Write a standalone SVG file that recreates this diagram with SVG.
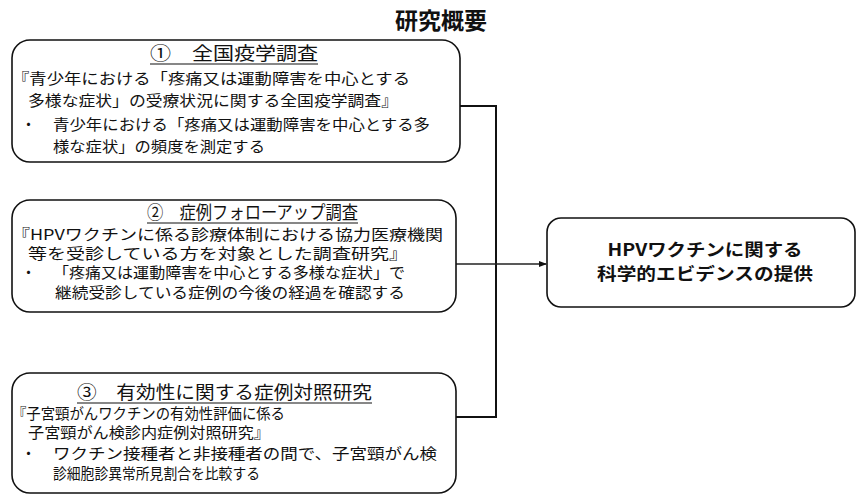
<svg xmlns="http://www.w3.org/2000/svg" width="857" height="499" viewBox="0 0 857 499">
<style>
text{font-family:"Noto Sans CJK JP","Noto Sans",sans-serif;fill:#111}
.box{fill:#fff;stroke:#111;stroke-width:1.6}
.h{font-size:18px}
.t{font-size:15px}
.big{font-size:17px;font-weight:bold}
.title{font-size:23px;font-weight:bold}
.ul{stroke:#111;stroke-width:1.2}
.conn{stroke:#111;stroke-width:2;fill:none}
.arr{stroke:#222;stroke-width:1.5;fill:none}
</style>
<defs>
<marker id="ah" markerWidth="8" markerHeight="8" refX="7" refY="4" orient="auto" markerUnits="userSpaceOnUse">
<path d="M0,1 L8,4 L0,7 Z" fill="#111"/>
</marker>
</defs>
<rect width="857" height="499" fill="#fff"/>
<text class="title" x="441" y="29" text-anchor="middle">研究概要</text>

<g id="connectors">
<path class="conn" d="M460,106 H496 V417 H456"/>
<line class="arr" x1="456" y1="264" x2="546" y2="264" marker-end="url(#ah)"/>
</g>

<g id="node1">
<rect class="box" x="12" y="40" width="448" height="122" rx="18"/>
<text class="h" x="150" y="60" textLength="168" lengthAdjust="spacingAndGlyphs">①　全国疫学調査</text>
<line class="ul" x1="150" y1="64" x2="318" y2="64"/>
<text class="t" x="12" y="84" textLength="398" lengthAdjust="spacingAndGlyphs">『青少年における「疼痛又は運動障害を中心とする</text>
<text class="t" x="28" y="106" textLength="370" lengthAdjust="spacingAndGlyphs">多様な症状」の受療状況に関する全国疫学調査』</text>
<text class="t" x="21" y="130">・</text>
<text class="t" x="53" y="130" textLength="377" lengthAdjust="spacingAndGlyphs">青少年における「疼痛又は運動障害を中心とする多</text>
<text class="t" x="53" y="152" textLength="212" lengthAdjust="spacingAndGlyphs">様な症状」の頻度を測定する</text>
</g>

<g id="node2">
<rect class="box" x="12" y="200" width="444" height="112" rx="18"/>
<text class="h" x="147" y="219" textLength="211" lengthAdjust="spacingAndGlyphs">②　症例フォローアップ調査</text>
<line class="ul" x1="147" y1="223" x2="358" y2="223"/>
<text class="t" x="12" y="240" textLength="431" lengthAdjust="spacingAndGlyphs">『HPVワクチンに係る診療体制における協力医療機関</text>
<text class="t" x="28" y="259" textLength="380" lengthAdjust="spacingAndGlyphs">等を受診している方を対象とした調査研究』</text>
<text class="t" x="21" y="278">・</text>
<text class="t" x="53" y="278" textLength="352" lengthAdjust="spacingAndGlyphs">「疼痛又は運動障害を中心とする多様な症状」で</text>
<text class="t" x="55" y="298" textLength="350" lengthAdjust="spacingAndGlyphs">継続受診している症例の今後の経過を確認する</text>
</g>

<g id="node3">
<rect class="box" x="12" y="373" width="444" height="120" rx="18"/>
<text class="h" x="77" y="399" textLength="295" lengthAdjust="spacingAndGlyphs">③　有効性に関する症例対照研究</text>
<line class="ul" x1="77" y1="403" x2="372" y2="403"/>
<text class="t" x="12" y="419" textLength="273" lengthAdjust="spacingAndGlyphs">『子宮頸がんワクチンの有効性評価に係る</text>
<text class="t" x="28" y="438" textLength="242" lengthAdjust="spacingAndGlyphs">子宮頸がん検診内症例対照研究』</text>
<text class="t" x="21" y="459">・</text>
<text class="t" x="53" y="459" textLength="384" lengthAdjust="spacingAndGlyphs">ワクチン接種者と非接種者の間で、子宮頸がん検</text>
<text class="t" x="53" y="479" textLength="207" lengthAdjust="spacingAndGlyphs">診細胞診異常所見割合を比較する</text>
</g>

<g id="node4">
<rect class="box" x="547" y="218" width="308" height="89" rx="14"/>
<text class="big" x="705" y="256" text-anchor="middle" textLength="195" lengthAdjust="spacingAndGlyphs">HPVワクチンに関する</text>
<text class="big" x="705" y="280" text-anchor="middle" textLength="216" lengthAdjust="spacingAndGlyphs">科学的エビデンスの提供</text>
</g>
</svg>
